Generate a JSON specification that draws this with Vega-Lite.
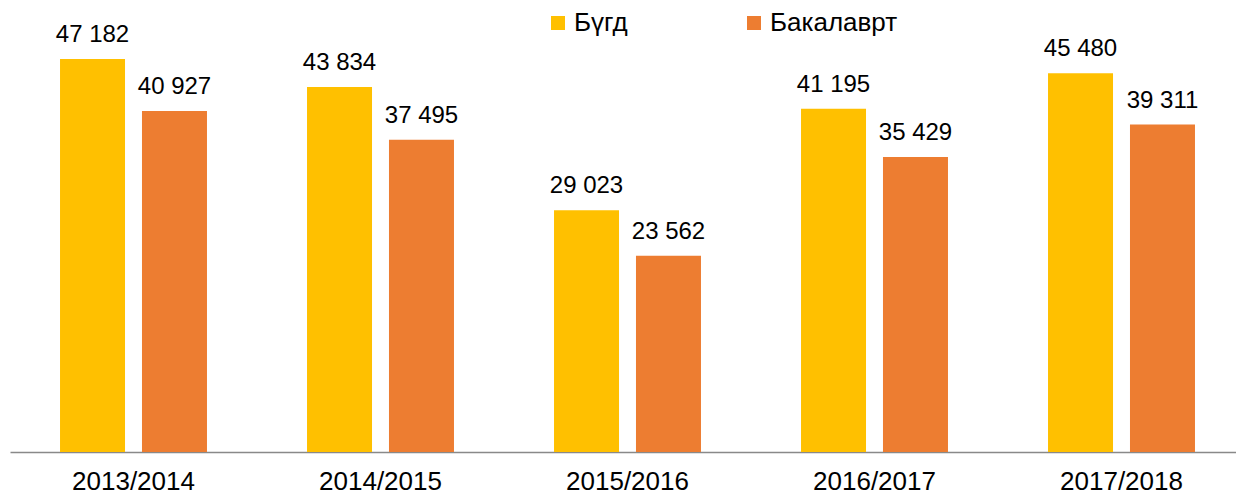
{
  "$schema": "https://vega.github.io/schema/vega-lite/v6.json",
  "width": 1235,
  "height": 452,
  "autosize": {"type": "none"},
  "padding": {"left": 10, "top": 0, "right": 0, "bottom": 43},
  "background": "white",
  "config": {
    "view": {"stroke": null},
    "font": "Liberation Sans",
    "locale": {"number": {"decimal": ",", "thousands": " ", "grouping": [3], "currency": ["", ""]}}
  },
  "data": {
    "values": [
      {"year": "2013/2014", "series": "Бүгд", "value": 47182},
      {"year": "2013/2014", "series": "Бакалаврт", "value": 40927},
      {"year": "2014/2015", "series": "Бүгд", "value": 43834},
      {"year": "2014/2015", "series": "Бакалаврт", "value": 37495},
      {"year": "2015/2016", "series": "Бүгд", "value": 29023},
      {"year": "2015/2016", "series": "Бакалаврт", "value": 23562},
      {"year": "2016/2017", "series": "Бүгд", "value": 41195},
      {"year": "2016/2017", "series": "Бакалаврт", "value": 35429},
      {"year": "2017/2018", "series": "Бүгд", "value": 45480},
      {"year": "2017/2018", "series": "Бакалаврт", "value": 39311}
    ]
  },
  "encoding": {
    "x": {
      "field": "year", "type": "nominal", "title": null,
      "scale": {"paddingInner": 0.405, "paddingOuter": 0.2025},
      "axis": {
        "labelAngle": 0, "labelFontSize": 26, "labelColor": "#000000",
        "labelPadding": 16, "ticks": false, "domainColor": "#898989", "domainWidth": 1.5,
        "labelFont": "Liberation Sans"
      }
    },
    "xOffset": {
      "field": "series", "type": "nominal",
      "sort": ["Бүгд", "Бакалаврт"],
      "scale": {"paddingInner": 0.207, "paddingOuter": 0}
    },
    "y": {
      "field": "value", "type": "quantitative",
      "scale": {"domain": [0, 54265], "nice": false},
      "axis": null
    }
  },
  "layer": [
    {
      "mark": {"type": "bar"},
      "encoding": {
        "color": {
          "field": "series", "type": "nominal",
          "sort": ["Бүгд", "Бакалаврт"],
          "scale": {"domain": ["Бүгд", "Бакалаврт"], "range": ["#FFC000", "#ED7D31"]},
          "legend": {
            "title": null, "orient": "none", "direction": "horizontal",
            "legendX": 535, "legendY": 10,
            "symbolType": "square", "symbolSize": 196, "symbolStrokeWidth": 0,
            "labelFontSize": 26, "labelColor": "#000000", "labelFont": "Liberation Sans",
            "labelOffset": 3, "columnPadding": 113
          }
        }
      }
    },
    {
      "mark": {"type": "text", "dy": -17, "baseline": "alphabetic", "fontSize": 24, "color": "#000000", "font": "Liberation Sans"},
      "encoding": {
        "text": {"field": "value", "type": "quantitative", "format": ",d"}
      }
    }
  ]
}
